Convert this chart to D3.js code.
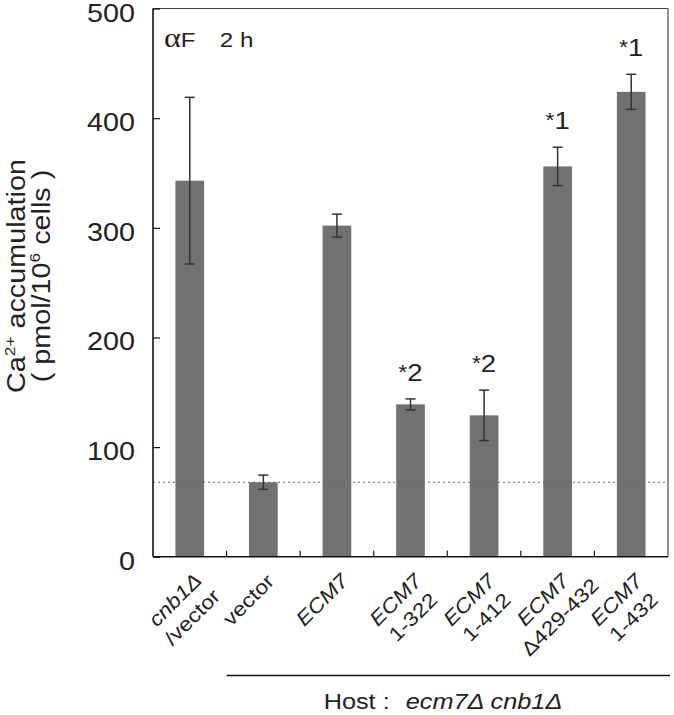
<!DOCTYPE html>
<html><head><meta charset="utf-8">
<script src="https://cdn.jsdelivr.net/npm/d3@7"></script>
<style>
body{margin:0;background:#fff}
text{font-family:"Liberation Sans",Arial,Helvetica,sans-serif;fill:#222}
tspan.greek{font-family:"Liberation Serif","Times New Roman",serif}
</style>
</head><body>
<svg id="chart" width="674" height="715"></svg>
<script>
// ---- data ----
const categories = ["cnb1Δ/vector","vector","ECM7","ECM7 1-322","ECM7 1-412","ECM7 Δ429-432","ECM7 1-432"];
const labelLine1 = ["cnb1Δ","vector","ECM7","ECM7","ECM7","ECM7","ECM7"];
const line1Italic = [true,false,true,true,true,true,true];
const labelLine2 = ["/vector","","","1-322","1-412","Δ429-432","1-432"];
const values = [343, 68, 302, 139, 129, 356, 424];
const errors = [76, 6.5, 10.5, 5, 23, 17.5, 16];
const significance = ["","","","*2","*2","*1","*1"];
const yTicks = [0,100,200,300,400,500];
const referenceLevel = 68;
const panelLabel = ["αF","2 h"];
const hostLabel = ["Host :","ecm7Δ cnb1Δ"];

// ---- layout ----
const svg = d3.select("#chart");
const pLeft = 153, pRight = 668, pTop = 8.5, pBottom = 556.8;
const SX = 1.15; // glyph widening to match reference type
const x = d3.scaleBand().domain(categories).range([pLeft,pRight]).paddingInner(0.61).paddingOuter(0.305);
const xb = d3.scaleBand().domain(categories).range([pLeft,pRight]).padding(0);
const y = d3.scaleLinear().domain([0,500]).range([pBottom,pTop]);

svg.append("rect").attr("width",674).attr("height",715).attr("fill","#fff");

// bars
svg.selectAll("rect.bar").data(values).join("rect").attr("class","bar")
  .attr("x",(d,i)=>x(categories[i])).attr("width",x.bandwidth())
  .attr("y",d=>y(d)).attr("height",d=>y(0)-y(d))
  .attr("fill","#717171");

// reference dotted line
svg.append("line").attr("x1",pLeft).attr("x2",pRight).attr("y1",y(referenceLevel)).attr("y2",y(referenceLevel))
  .attr("stroke","#666").attr("stroke-width",1).attr("stroke-dasharray","2,3");

// error bars
const eb = svg.append("g").attr("stroke","#333").attr("stroke-width",1.5);
values.forEach((v,i)=>{
  const cx = x(categories[i]) + x.bandwidth()/2;
  const e = errors[i];
  eb.append("line").attr("x1",cx).attr("x2",cx).attr("y1",y(v+e)).attr("y2",y(v-e));
  eb.append("line").attr("x1",cx-5).attr("x2",cx+5).attr("y1",y(v+e)).attr("y2",y(v+e));
  eb.append("line").attr("x1",cx-5).attr("x2",cx+5).attr("y1",y(v-e)).attr("y2",y(v-e));
});

// significance labels
values.forEach((v,i)=>{
  if(!significance[i]) return;
  const cx = x(categories[i]) + x.bandwidth()/2;
  const t = svg.append("text").attr("transform",`translate(${cx},${y(v+errors[i])-18}) scale(${SX},1)`)
    .attr("text-anchor","middle").attr("font-size",24);
  t.append("tspan").attr("font-size",20).attr("dy",-2).text(significance[i].slice(0,1));
  t.append("tspan").attr("dy",2).text(significance[i].slice(1));
});

// frame
svg.append("line").attr("x1",pLeft).attr("x2",pRight).attr("y1",pTop).attr("y2",pTop).attr("stroke","#444").attr("stroke-width",1.2);
svg.append("line").attr("x1",pRight).attr("x2",pRight).attr("y1",pTop).attr("y2",pBottom).attr("stroke","#444").attr("stroke-width",1.2);

// y axis (ticks inward)
const yAxis = svg.append("g").attr("transform",`translate(${pLeft},0)`)
  .call(d3.axisRight(y).tickValues(yTicks).tickSize(7).tickFormat(""));
yAxis.select(".domain").attr("stroke","#111").attr("stroke-width",1.6).attr("d",`M0,${pTop}V${pBottom}`);
yAxis.selectAll(".tick line").attr("stroke","#111").attr("stroke-width",1.2);
yTicks.forEach(t=>{
  svg.append("text").attr("transform",`translate(135,${y(t)+13}) scale(${SX},1)`)
    .attr("text-anchor","end").attr("font-size",25).text(t);
});

// x axis with inward ticks at band boundaries
const xAxis = svg.append("g").attr("transform",`translate(0,${pBottom})`);
xAxis.append("line").attr("x1",pLeft).attr("x2",pRight).attr("stroke","#111").attr("stroke-width",1.6);
categories.slice(1).forEach(c=>{
  xAxis.append("line").attr("x1",xb(c)).attr("x2",xb(c)).attr("y1",0).attr("y2",-6).attr("stroke","#111").attr("stroke-width",1.2);
});

// x labels (rotated)
categories.forEach((c,i)=>{
  const cx = x(c) + x.bandwidth()/2;
  const g = svg.append("g").attr("transform",`translate(${cx-15},${pBottom+43}) rotate(-45) scale(${SX},1)`);
  g.append("text").attr("text-anchor","middle").attr("font-size",20).attr("dy","0.35em")
    .attr("font-style",line1Italic[i]?"italic":"normal").text(labelLine1[i]);
  if(labelLine2[i]) g.append("text").attr("text-anchor","middle").attr("font-size",20)
    .attr("y",24.4).attr("dy","0.35em").text(labelLine2[i]);
});

// y title
const yt = svg.append("g").attr("transform",`translate(25,276) rotate(-90) scale(${SX},1)`);
const t1 = yt.append("text").attr("text-anchor","middle").attr("font-size",25);
t1.append("tspan").text("Ca");
t1.append("tspan").attr("font-size",15).attr("dy",-10).text("2+");
t1.append("tspan").attr("dy",10).text(" accumulation");
const t2 = yt.append("text").attr("text-anchor","middle").attr("font-size",25).attr("y",25);
t2.append("tspan").text("( pmol/10");
t2.append("tspan").attr("font-size",15).attr("dy",-10).text("6");
t2.append("tspan").attr("dy",10).text(" cells )");

// panel label
const pl = svg.append("text").attr("transform",`translate(164,47) scale(${SX},1)`).attr("font-size",21);
pl.append("tspan").attr("class","greek").style("font-size","28px").text(panelLabel[0].slice(0,1));
pl.append("tspan").text(panelLabel[0].slice(1));
pl.append("tspan").attr("dx",21).text(panelLabel[1]);

// host bracket line and label
svg.append("line").attr("x1",xb(categories[1])).attr("x2",pRight+2).attr("y1",675.5).attr("y2",675.5)
  .attr("stroke","#111").attr("stroke-width",1.5);
const ht = svg.append("text").attr("transform",`translate(443,709) scale(${SX},1)`).attr("text-anchor","middle").attr("font-size",22);
ht.append("tspan").text(hostLabel[0]);
ht.append("tspan").attr("dx",14).attr("font-style","italic").text(hostLabel[1]);
</script>
</body></html>
